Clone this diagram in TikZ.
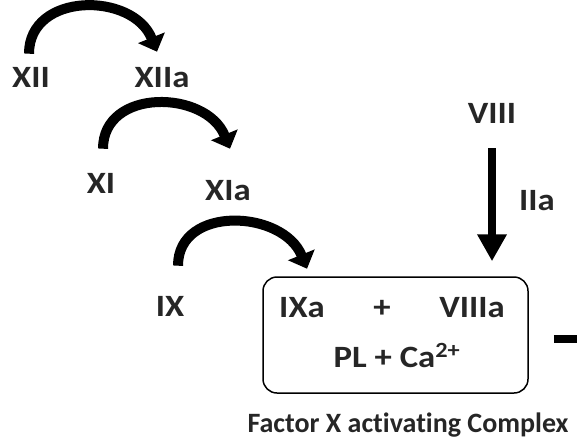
\documentclass[tikz,border=0pt]{standalone}
\usepackage{fontspec}
\setmainfont{Carlito}[Ligatures=NoCommon]
\newfontfamily\labfont{Carlito}[FakeStretch=1.12,Ligatures=NoCommon]
\usetikzlibrary{arrows.meta,calc}
\begin{document}
\begin{tikzpicture}[x=1pt,y=-1pt]
\useasboundingbox (0,0) rectangle (577,440);
\tikzset{
  lab/.style={font=\labfont\bfseries\fontsize{31}{32}\selectfont, inner sep=0pt, anchor=base, text=black!85},
  small/.style={font=\bfseries\fontsize{28}{29}\selectfont, inner sep=0pt, anchor=base, text=black!85},
  curvedarrow/.style={line width=10pt, -{Triangle[width=28pt,length=15pt]}},
  straightarrow/.style={line width=8pt, -{Triangle[width=28pt,length=27pt]}},
  complexbox/.style={draw, line width=1.5pt, rounded corners=14pt, minimum width=265pt, minimum height=116pt, inner sep=0pt},
}
% labels
\node[lab] (xii)  at (31,87)  {XII};
\node[lab] (xiia) at (162,87) {XIIa};
\node[lab] (xi)   at (101,193) {XI};
\node[lab] (xia)  at (228,200) {XIa};
\node[lab] (ix)   at (170,316) {IX};
\node[lab] (viii) at (492,123) {VIII};
\node[lab] (iia)  at (537,210) {IIa};
% complex box
\node[complexbox] (box) at (395.5,335) {};
\node[lab] (ixa)   at (302,317) {IXa};
\node[lab] (plus)  at (382,317) {+};
\node[lab] (viiia) at (472,317) {VIIIa};
\node[lab] (plca)  at (397,367) {PL + Ca\textsuperscript{2+}};
\node[small] (fac) at (408,432) {Factor X activating Complex};
% curved arrows
\draw[curvedarrow] ($(xii.north)+(-2,-13)$) .. controls +(0,-62) and +(-24,-60) .. ($(xiia.north)+(-5,-15)$);
\draw[curvedarrow] ($(xi.north)+(2,-24)$) .. controls +(0,-61) and +(-24,-59) .. ($(xia.north)+(2,-31)$);
\draw[curvedarrow] ($(ix.north)+(8,-30)$) .. controls +(0,-61) and +(-24,-59) .. ($(ixa.north)+(5,-28)$);
% straight arrow
\draw[straightarrow, shorten <=25pt, shorten >=15pt] (viii.south) -- (viii.south |- box.north);
% outgoing bar
\draw[line width=8pt] ($(box.east)+(25,4)$) -- ($(box.east)+(55,4)$);
\end{tikzpicture}
\end{document}
